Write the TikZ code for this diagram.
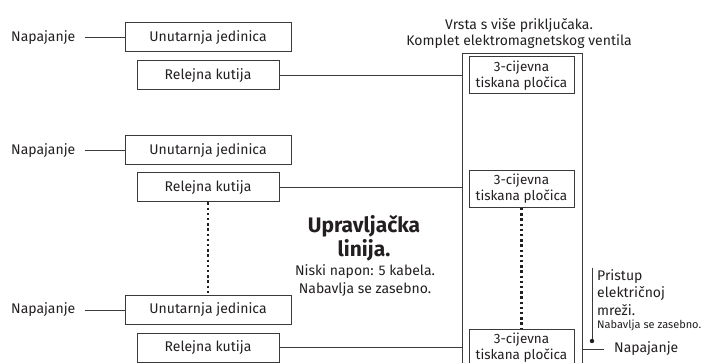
\documentclass[tikz,border=0pt]{standalone}
\usepackage{fontspec}
\setmainfont{Fira Sans}
\usepackage{tikz}
\definecolor{inkgray}{HTML}{231F20}
\definecolor{linegray}{HTML}{3A3A3A}

\begin{document}
\begin{tikzpicture}[x=1pt,y=-1pt]
    \tikzstyle{base}=[text=inkgray, font=\fontsize{14}{16}\selectfont, inner sep=0pt]
    \tikzstyle{unitbox}=[base, draw=linegray, line width=1pt, minimum width=166pt, minimum height=29pt]
    \tikzstyle{relaybox}=[unitbox, minimum width=142pt]
    \tikzstyle{pcbbox}=[base, draw=linegray, line width=1pt, minimum width=105pt, minimum height=37pt, align=center, font=\fontsize{13.5}{16}\selectfont]
    \tikzstyle{wire}=[draw=linegray, line width=0.9pt]
    \tikzstyle{dotline}=[draw=inkgray, line width=2.4pt, dash pattern=on 2.4pt off 2.8pt]

    \useasboundingbox (0,0) rectangle (712,363);
    \clip (0,0) rectangle (712,363);

    % strip of the multi-connector kit
    \node[draw=linegray, line width=1pt, minimum width=120pt, minimum height=340pt, inner sep=0pt, anchor=north west] (vrsta) at (462,53) {};
    \node[base, align=center, font=\fontsize{14}{16}\selectfont] (vrstahdr) at (519,33) {Vrsta s više priključaka.\\Komplet elektromagnetskog ventila};

    \foreach \i/\yu/\yr/\yp in {1/37.5/75.5/75.5, 2/150.5/187.5/189, 3/310/347.5/347.5} {
      \node[base, anchor=west] (nap\i) at (11,\yu) {Napajanje};
      \node[unitbox] (uj\i) at (208,\yu) {Unutarnja jedinica};
      \node[relaybox] (rk\i) at (208,\yr) {Relejna kutija};
      \node[pcbbox] (pcb\i) at (521.5,\yp) {3-cijevna\\tiskana pločica};
      \draw[wire] ([xshift=9pt]nap\i.east) -- (uj\i.west);
      \draw[wire] (rk\i.east) -- (vrsta.west |- rk\i.east);
    }

    \draw[dotline] (rk2.south) -- (uj3.north);
    \draw[dotline] (pcb2.south) -- (pcb3.north);

    \node[base, align=center, font=\bfseries\fontsize{21}{24}\selectfont] (upr) at (364,238) {Upravljačka\\linija.};
    \node[base, align=center, font=\fontsize{14}{18}\selectfont] (niski) at (365,281) {Niski napon: 5 kabela.\\Nabavlja se zasebno.};

    % mains supply on the right
    \node[base, anchor=west, inner xsep=10pt] (nap4) at (604,349) {Napajanje};
    \draw[wire] (vrsta.east |- nap4.west) -- (nap4.west);
    \node[base, anchor=north west, align=left, font=\fontsize{14}{17.5}\selectfont] (pristup) at (597,269) {Pristup\\električnoj\\mreži.};
    \node[base, anchor=north west, font=\fontsize{11}{12}\selectfont] (zasebno) at (597,320) {Nabavlja se zasebno.};
    \coordinate (tap) at (592,341);
    \draw[wire] (592,268) -- (tap);
    \fill[inkgray] (tap) circle (2.2pt);
\end{tikzpicture}
\end{document}
